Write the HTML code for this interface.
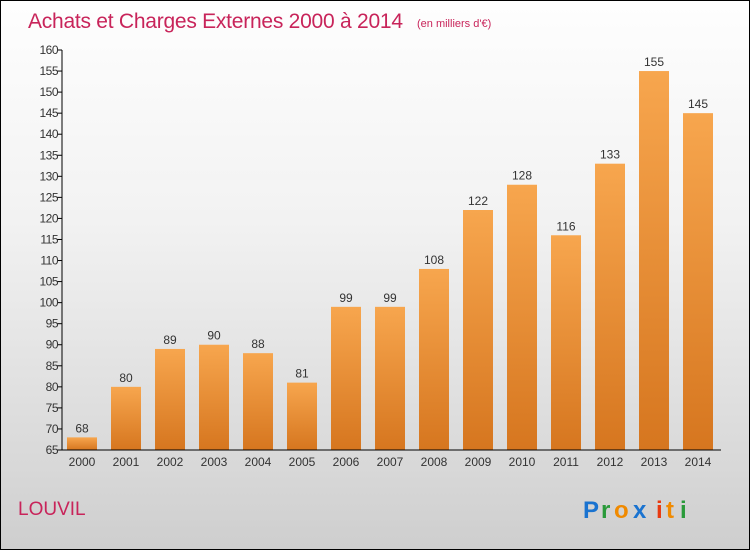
<!DOCTYPE html>
<html><head><meta charset="utf-8"><style>
body{margin:0}
#c{position:relative;width:748px;height:548px;border:1px solid #000;background:linear-gradient(#fefefe,#f2f2f2 40%,#d8d8d8 85%,#cecece);font-family:"Liberation Sans",sans-serif;overflow:hidden}
</style></head><body>
<div id="c">
<svg id="s" width="748" height="548">
<defs><linearGradient id="g" x1="0" y1="0" x2="0" y2="1"><stop offset="0" stop-color="#f7a64e"/><stop offset="1" stop-color="#d6761f"/></linearGradient></defs>
<text x="27" y="27" font-size="21" fill="#c8245a" textLength="375">Achats et Charges Externes 2000 à 2014</text>
<text x="416" y="26" font-size="11" fill="#c8245a">(en milliers d'€)</text>
<text x="17" y="514" font-size="19" fill="#c8245a">LOUVIL</text>
<g font-size="24" font-family="Liberation Sans" font-weight="bold">
<text x="582" y="517" fill="#1a73d0">P</text><text x="600" y="517" fill="#2a9a3a">r</text><text x="613" y="517" fill="#f08a00">o</text><text x="632" y="517" fill="#1a73d0">x</text><text x="655" y="517" fill="#e83a10">i</text><text x="665" y="517" fill="#f08a00">t</text><text x="679" y="517" fill="#2a9a3a">i</text></g>
<g id="plot"></g>
</svg></div>
<script>
const categories=["2000","2001","2002","2003","2004","2005","2006","2007","2008","2009","2010","2011","2012","2013","2014"];
const values=[68,80,89,90,88,81,99,99,108,122,128,116,133,155,145];
const yTicks=[65,70,75,80,85,90,95,100,105,110,115,120,125,130,135,140,145,150,155,160];
const ns="http://www.w3.org/2000/svg";
const p=document.getElementById('plot');
const y=v=>449-(v-65)*(400/95);
const x=i=>81+44*i;
function mk(t,a,txt){const e=document.createElementNS(ns,t);for(const k in a)e.setAttribute(k,a[k]);if(txt!=null)e.textContent=txt;p.appendChild(e);return e;}
values.forEach((v,i)=>{
const r=mk('rect',{x:x(i)-15,y:y(v),width:30,height:y(65)-y(v),fill:'url(#g)'});


const t=mk('text',{x:x(i),y:y(v)-5,'font-size':12,'text-anchor':'middle',fill:'#333'},v);


const c=mk('text',{x:x(i),y:465,'font-size':12,'text-anchor':'middle',fill:'#333'},categories[i]);


});
yTicks.forEach(v=>{
const l=mk('line',{x1:56,x2:61,y1:y(v),y2:y(v),stroke:'#000'});


const t=mk('text',{x:57,y:y(v)+4,'font-size':12,'text-anchor':'end',fill:'#333','letter-spacing':'-0.5'},v);


});
const ya=mk('line',{x1:61,x2:61,y1:y(160),y2:y(65),stroke:'#000'});


const xa=mk('line',{x1:61,x2:720,y1:y(65),y2:y(65),stroke:'#000'});


</script></body></html>
